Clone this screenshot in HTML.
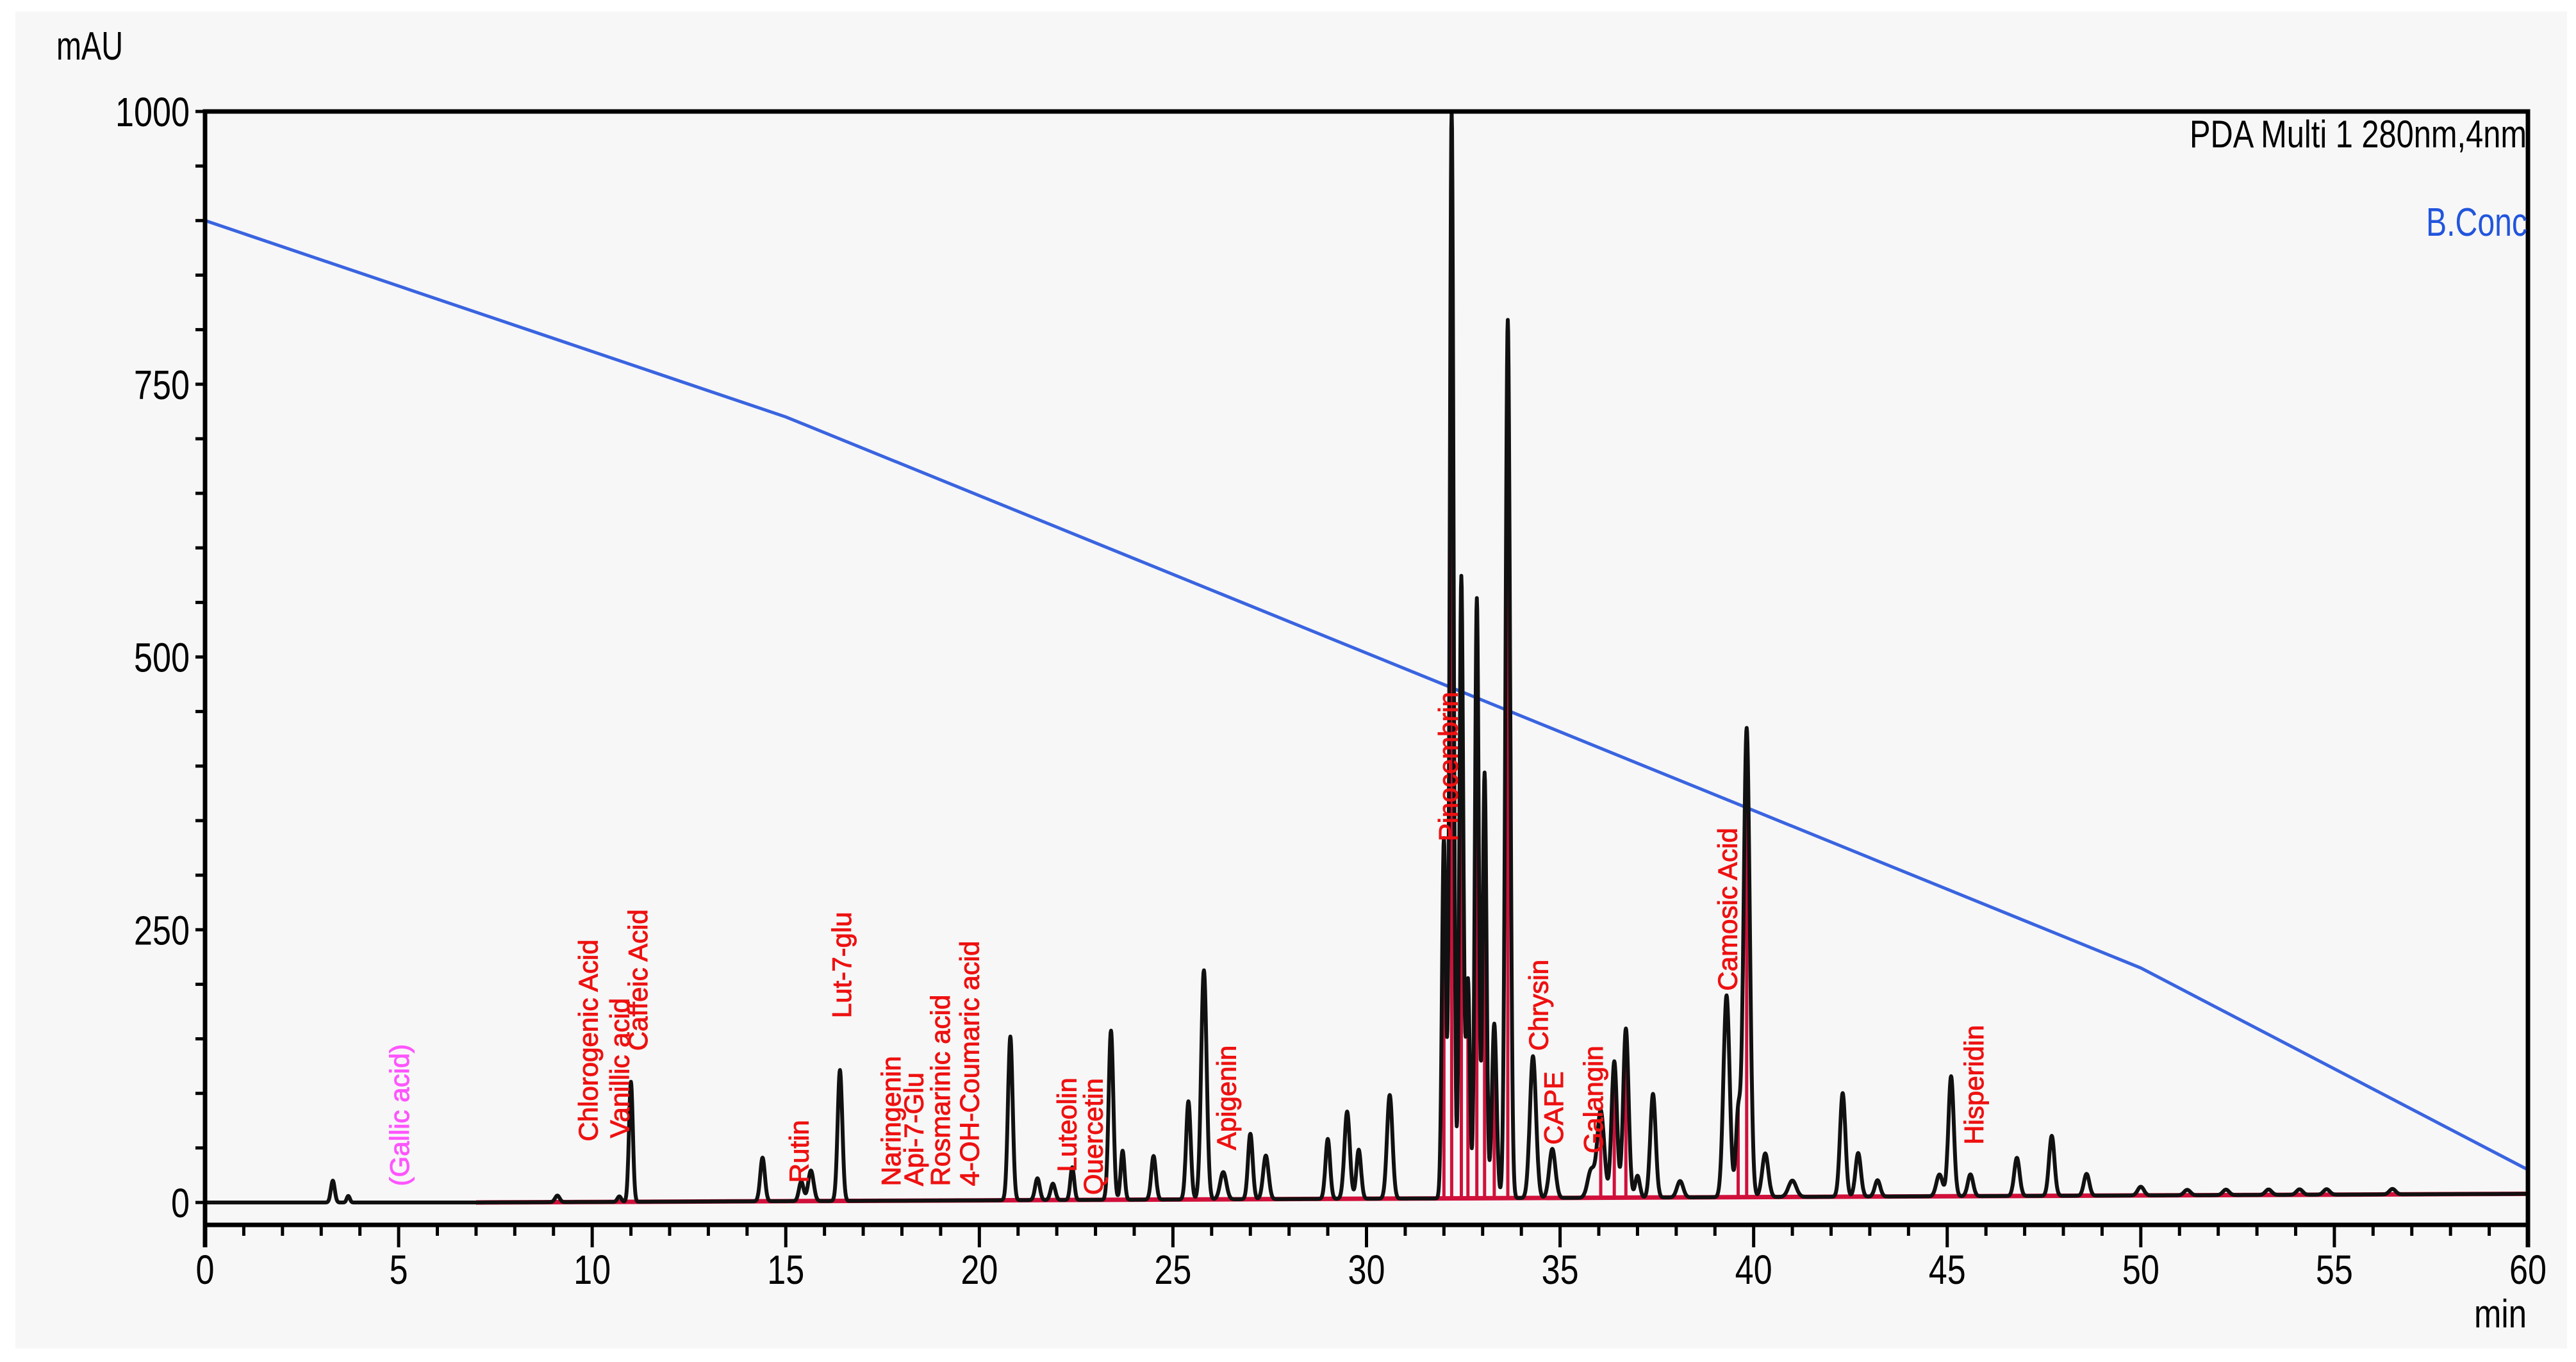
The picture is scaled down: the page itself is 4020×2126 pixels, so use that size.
<!DOCTYPE html>
<html><head><meta charset="utf-8"><style>
html,body{margin:0;padding:0;background:#fff;}
svg{display:block;font-family:"Liberation Sans",sans-serif;}
</style></head><body>
<svg id="chart" width="4020" height="2126" viewBox="0 0 4020 2126" xmlns="http://www.w3.org/2000/svg">
<rect x="24" y="18" width="3982" height="2087" fill="#f7f7f7"/>
<g id="grad"></g>
<g id="red"></g>
<g id="trace"></g>
<g id="labels"></g>
<g id="axes"></g>
<text x="88" y="93" font-size="62" textLength="104" lengthAdjust="spacingAndGlyphs">mAU</text>
<text x="3943" y="2072" font-size="62" text-anchor="end" textLength="82" lengthAdjust="spacingAndGlyphs">min</text>
<text x="3417" y="230" font-size="60" textLength="526" lengthAdjust="spacingAndGlyphs">PDA Multi 1 280nm,4nm</text>
<text x="3786" y="368" font-size="62" fill="#2255dd" textLength="158" lengthAdjust="spacingAndGlyphs">B.Conc</text>
</svg>
<script>
const peakTimes   = [3.3,3.7,9.1,10.7,11.0,14.4,15.4,15.65,16.4,20.8,21.5,21.9,22.4,23.4,23.7,24.5,25.4,25.8,26.3,27.0,27.4,29.0,29.5,29.8,30.6,32.0,32.2,32.45,32.62,32.85,33.05,33.3,33.65,34.3,34.8,35.8,36.05,36.4,36.7,37.0,37.4,38.1,39.3,39.6,39.82,40.3,41.0,42.3,42.7,43.2,44.8,45.1,45.6,46.8,47.7,48.6,50.0,51.2,52.2,53.3,54.1,54.8,56.5];
const peakHeights = [20,6,6,5,110,40,18,28,120,150,20,15,30,155,45,40,90,210,25,60,40,55,80,45,95,330,1000,570,200,550,390,160,805,130,45,25,80,125,155,20,95,15,185,75,430,40,15,95,40,15,20,110,20,35,55,20,8,5,5,5,5,5,5];
const peakWidths  = [0.05,0.04,0.06,0.05,0.05,0.06,0.06,0.07,0.06,0.06,0.06,0.06,0.05,0.06,0.05,0.06,0.06,0.07,0.08,0.06,0.07,0.06,0.07,0.06,0.07,0.05,0.05,0.05,0.05,0.05,0.05,0.06,0.06,0.08,0.08,0.09,0.09,0.07,0.07,0.06,0.07,0.08,0.08,0.06,0.08,0.08,0.1,0.07,0.07,0.07,0.08,0.07,0.07,0.07,0.07,0.07,0.08,0.08,0.08,0.08,0.08,0.08,0.08];
const gradTimes = [0,15,50,60];
const gradValues = [900,720,215,30];
const dropTimes = [32.0,32.2,32.45,32.62,32.85,33.05,33.3,33.65,36.05,36.4,36.7,39.6,39.82];
const labelNames = ["(Gallic acid)","Chlorogenic Acid","Vanillic acid","Caffeic Acid","Rutin","Lut-7-glu","Naringenin","Api-7-Glu","Rosmarinic acid","4-OH-Coumaric acid","Luteolin","Quercetin","Apigenin","Pinocembrin","Chrysin","CAPE","Galangin","Camosic Acid","Hisperidin"];
const labelTimes = [5.01,9.89,10.70,11.17,15.33,16.43,17.71,18.30,18.98,19.74,22.25,22.93,26.37,32.10,34.43,34.82,35.85,39.32,45.68];
const labelValues = [15,56,59,139,18,169,15,15,15,15,28,7,48,331,139,53,45,194,53];
const xTicks = [0,5,10,15,20,25,30,35,40,45,50,55,60];
const yTicks = [0,250,500,750,1000];

const X0=320,X1=3945,Y0=1877,Y1000=174,AXB=1912;
const X=t=>X0+(X1-X0)*t/60;
const Y=v=>Y0-(Y0-Y1000)*v/1000;
function mk(tag,parent,attrs){const e=document.createElementNS("http://www.w3.org/2000/svg",tag);for(const k in attrs)e.setAttribute(k,attrs[k]);parent.appendChild(e);return e;}
const baseline=t=>t<7?0:(t-7)*0.15;
function signal(t){let s=baseline(t);for(let i=0;i<peakTimes.length;i++){const d=(t-peakTimes[i])/peakWidths[i];if(Math.abs(d)<6)s+=peakHeights[i]*Math.exp(-0.5*d*d);}return s;}

let gp="";gradTimes.forEach((t,i)=>{gp+=(i?"L":"M")+X(t).toFixed(1)+","+Y(gradValues[i]).toFixed(1);});
const gl=mk("path",document.getElementById("grad"),{d:gp,fill:"none",stroke:"#3a64e0","stroke-width":5});



const red=document.getElementById("red");
const rb=mk("path",red,{d:"M"+X(7)+","+Y(baseline(7))+"L"+X(60)+","+Y(baseline(60)),stroke:"#d0103a","stroke-width":7,fill:"none"});


dropTimes.forEach(t=>{
  const l=mk("line",red,{x1:X(t),x2:X(t),y1:Y(baseline(t)),y2:Y(signal(t)*0.97),stroke:"#d0103a","stroke-width":5});
  
  
});

let tp="";for(let t=0;t<=60.0001;t+=0.01){const v=Math.min(signal(t),1000);tp+=(t?"L":"M")+X(t).toFixed(1)+","+Y(v).toFixed(1);}
const tr=mk("path",document.getElementById("trace"),{d:tp,fill:"none",stroke:"#111","stroke-width":6,"stroke-linejoin":"round"});



const lg=document.getElementById("labels");
labelNames.forEach((n,i)=>{
  const x=X(labelTimes[i]),y=Y(labelValues[i]);
  const tx=mk("text",lg,{x:x,y:y,transform:"rotate(-90 "+x+" "+y+")","font-size":42,dy:"0.36em",fill:i===0?"#ff55ff":"#ee1111",stroke:i===0?"#ff55ff":"#ee1111","stroke-width":1});
  tx.textContent=n;
  
  
});

const ax=document.getElementById("axes");
mk("path",ax,{d:`M${X0},${AXB+35}L${X0},${Y1000}L${X1},${Y1000}L${X1},${AXB+35}M${X0},${AXB}L${X1},${AXB}`,fill:"none",stroke:"#000","stroke-width":7});
for(let m=0;m<=60;m++){const big=m%5===0;mk("line",ax,{x1:X(m),x2:X(m),y1:AXB,y2:AXB+(big?35:17),stroke:"#000","stroke-width":5});}
for(let v=0;v<=1000;v+=50){mk("line",ax,{x1:X0-15,x2:X0,y1:Y(v),y2:Y(v),stroke:"#000","stroke-width":5});}
xTicks.forEach(t=>{
  const s=String(t);
  const tx=mk("text",ax,{x:X(t),y:2004,"font-size":64,"text-anchor":"middle",textLength:s.length*29,lengthAdjust:"spacingAndGlyphs"});
  tx.textContent=s;
  
  
});
yTicks.forEach(v=>{
  const s=String(v);
  const tx=mk("text",ax,{x:X0-24,y:Y(v)+23,"font-size":64,"text-anchor":"end",textLength:s.length*29,lengthAdjust:"spacingAndGlyphs"});
  tx.textContent=s;
  
  
});
</script>
</body></html>
